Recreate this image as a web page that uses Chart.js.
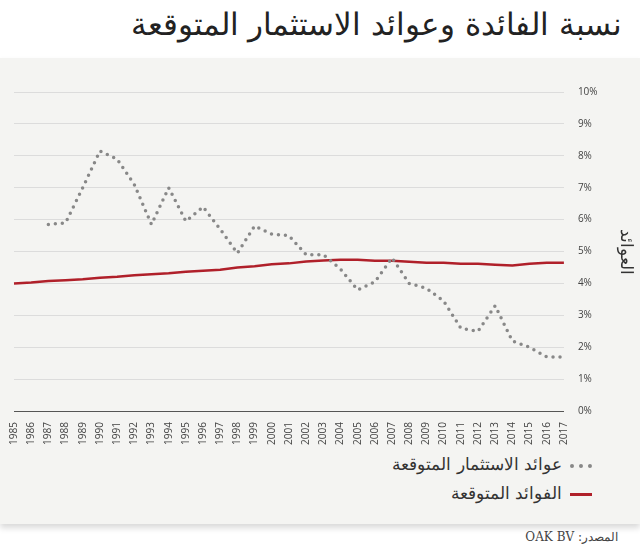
<!DOCTYPE html>
<html><head><meta charset="utf-8">
<script src="https://cdn.jsdelivr.net/npm/chart.js@4"></script>
<style>
body{margin:0;width:640px;height:554px;background:#fff;font-family:"DejaVu Serif",serif;position:relative;overflow:hidden}
#panel{position:absolute;left:0;top:58px;width:640px;height:466px;background:#f4f4f2;box-shadow:0 4px 6px rgba(0,0,0,0.15)}
#title{position:absolute;right:18px;top:6px;font-size:31px;color:#222;direction:rtl}
#wrap{position:absolute;left:0;top:58px;width:640px;height:390px}
.leg{position:absolute;right:48px;font-size:17px;color:#333;direction:rtl}
.leg span{display:inline-block;width:22px;vertical-align:middle;margin-left:8px}
#src{position:absolute;right:22px;top:530px;font-size:12px;color:#444;direction:rtl}
</style></head><body>
<div id="panel"></div>
<div id="title">نسبة الفائدة وعوائد الاستثمار المتوقعة</div>
<div id="wrap"><canvas id="c" width="640" height="390"></canvas></div>
<div class="leg" style="top:454px"><span style="border-top:4px dotted #888"></span>عوائد الاستثمار المتوقعة</div>
<div class="leg" style="top:483px"><span style="border-top:3px solid #b0202a"></span>الفوائد المتوقعة</div>
<div id="src">المصدر: OAK BV</div>
<script>
const years = [];
for (let y = 1985; y <= 2017; y += 1) years.push(String(y));
const investmentReturns = [null, null, 5.85, 5.9, 7.0, 8.15, 7.9, 7.1, 5.85, 7.0, 5.95, 6.4, 5.7, 4.95, 5.8, 5.55, 5.5, 4.9, 4.9, 4.45, 3.8, 4.05, 4.8, 4.0, 3.85, 3.45, 2.6, 2.5, 3.3, 2.2, 2.0, 1.7, 1.7];
const expectedInterest = [4.0, 4.03, 4.08, 4.1, 4.13, 4.18, 4.21, 4.26, 4.29, 4.32, 4.37, 4.4, 4.43, 4.5, 4.54, 4.6, 4.63, 4.69, 4.72, 4.74, 4.74, 4.71, 4.71, 4.68, 4.65, 4.65, 4.62, 4.62, 4.59, 4.56, 4.62, 4.65, 4.65];

new Chart(document.getElementById('c'), {
  type: 'line',
  data: {
    labels: years,
    datasets: [
      { data: investmentReturns, borderColor: '#888', borderWidth: 3.5, borderDash: [0, 7], borderCapStyle: 'round', pointRadius: 0, tension: 0 },
      { data: expectedInterest, borderColor: '#b0202a', borderWidth: 2.5, pointRadius: 0, tension: 0 },
    ],
  },
  options: {
    responsive: false, animation: false,
    layout: { padding: { left: 14, top: 34, right: 0 } },
    plugins: { legend: { display: false }, tooltip: { enabled: false } },
    scales: {
      x: {
        grid: { display: false }, border: { color: '#555' },
        ticks: { color: '#444', font: { family: 'Open Sans', size: 10 }, maxRotation: 90, minRotation: 90, autoSkip: false },
      },
      y: {
        position: 'right', min: 0, max: 10,
        grid: { color: '#dcdcdc', drawTicks: false }, border: { display: false },
        ticks: { stepSize: 1, padding: 14, color: '#444', font: { family: 'Open Sans', size: 10 }, callback: (v) => v + '%' },
        title: { display: true, text: 'العوائد', color: '#333', font: { family: 'DejaVu Serif', size: 17 } },
      },
    },
  },
});
</script>
</body></html>
